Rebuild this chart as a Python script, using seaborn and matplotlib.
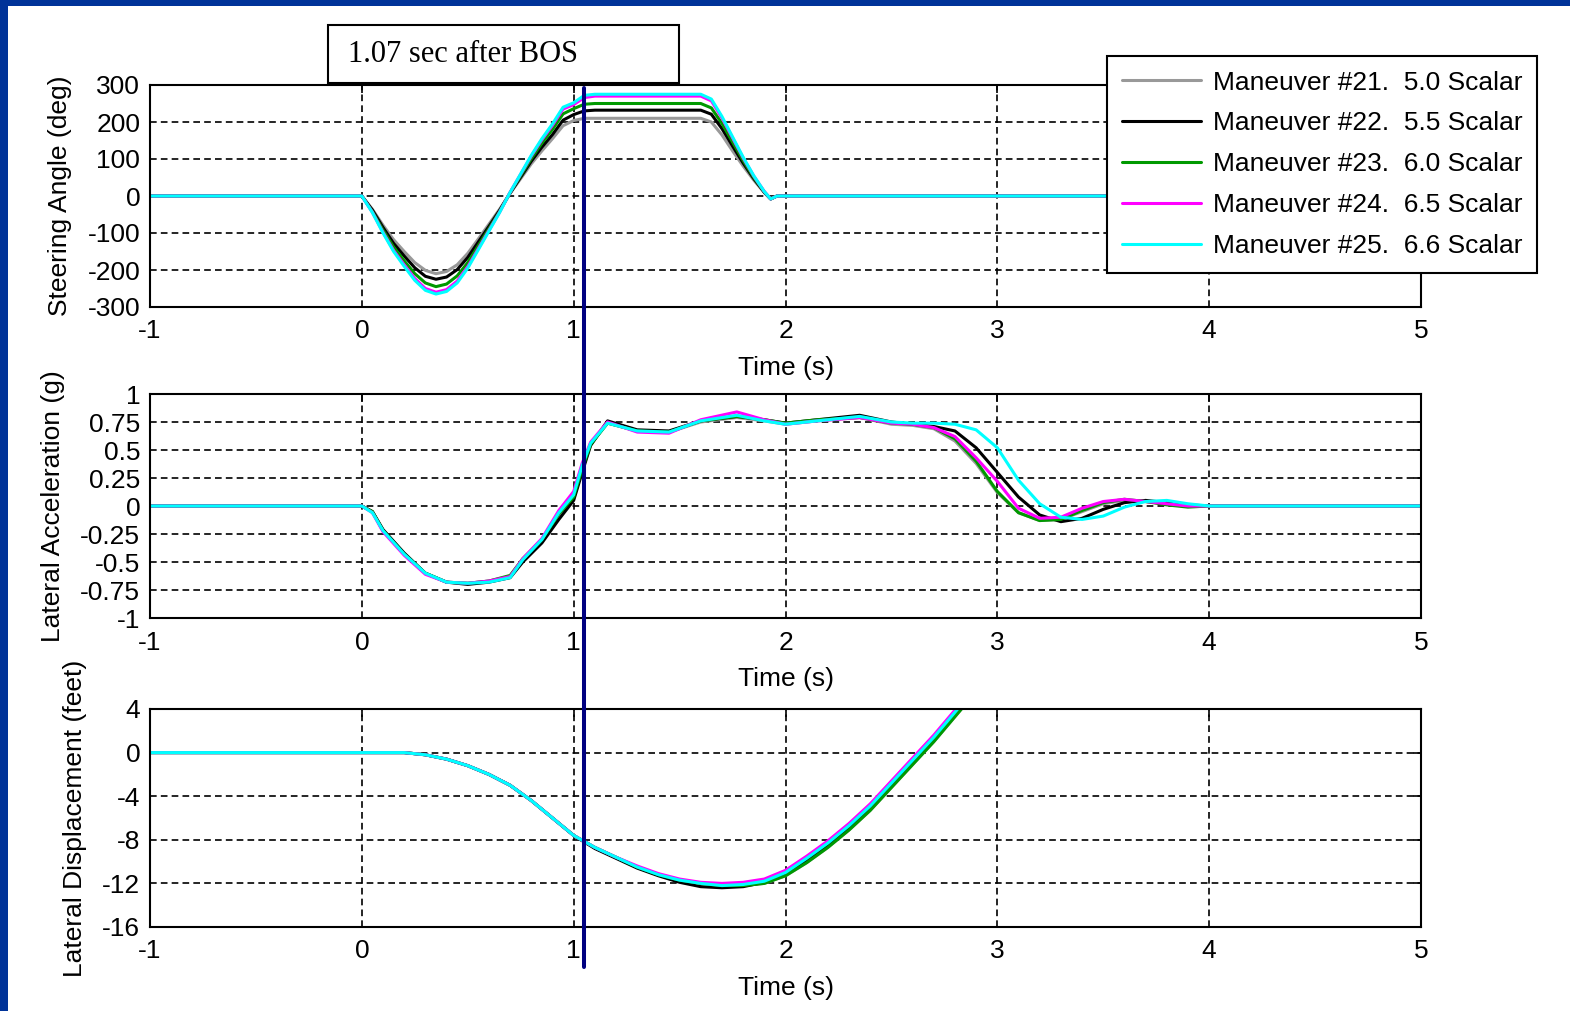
import matplotlib
matplotlib.use("Agg")
import matplotlib.pyplot as plt
import matplotlib.transforms as mtransforms
from matplotlib.lines import Line2D
from matplotlib.patches import Rectangle
import pandas as pd
import seaborn as sns

# legend entries / colours (drawn in this order, cyan on top)
runs = ["Maneuver #21.  5.0 Scalar", "Maneuver #22.  5.5 Scalar",
        "Maneuver #23.  6.0 Scalar", "Maneuver #24.  6.5 Scalar",
        "Maneuver #25.  6.6 Scalar"]
run_colors = ["#999999", "#000000", "#009900", "#ff00ff", "#00ffff"]

bos_time = 1.05
bos_text = "1.07 sec after BOS"

# steering angle (deg)
t_steer = [-1.0, 0.0, 0.05, 0.10, 0.15, 0.20, 0.25, 0.30, 0.35, 0.40, 0.45, 0.50,
           0.55, 0.60, 0.65, 0.70, 0.75, 0.80, 0.85, 0.90, 0.95, 1.00, 1.05, 1.10,
           1.60, 1.65, 1.70, 1.75, 1.80, 1.85, 1.90, 1.93, 1.96, 5.0]
steer_21 = [0, 0, -36, -79, -118, -150, -180, -201, -210, -204, -186, -155, -116, -76, -36, 7, 47,
            87, 122, 155, 190, 204, 210, 210, 210, 200, 165, 122, 81, 43, 9, -8, 0, 0]
steer_22 = [0, 0, -38, -85, -128, -162, -194, -217, -225, -219, -199, -166, -124, -82, -39, 8, 51,
            94, 132, 166, 205, 220, 230, 232, 232, 221, 182, 135, 89, 47, 10, -8, 0, 0]
steer_23 = [0, 0, -42, -92, -138, -175, -210, -235, -245, -238, -216, -180, -134, -88, -42, 9, 55,
            101, 143, 180, 222, 236, 248, 250, 250, 238, 196, 146, 96, 50, 11, -8, 0, 0]
steer_24 = [0, 0, -44, -98, -147, -186, -223, -250, -260, -253, -230, -191, -142, -93, -44, 10, 59,
            108, 152, 191, 235, 247, 266, 270, 270, 257, 211, 157, 103, 54, 12, -8, 0, 0]
steer_25 = [0, 0, -45, -100, -150, -190, -228, -255, -265, -258, -235, -195, -145, -95, -45, 10, 60,
            110, 155, 195, 240, 252, 272, 275, 275, 262, 215, 160, 105, 55, 12, -8, 0, 0]

# lateral acceleration (g)
t_acc = [-1.0, 0.0, 0.05, 0.10, 0.20, 0.30, 0.40, 0.50, 0.60, 0.70, 0.76, 0.85, 0.93, 1.00,
         1.04, 1.08, 1.16, 1.30, 1.45, 1.60, 1.77, 1.90, 2.00, 2.15, 2.35, 2.50, 2.60, 2.70,
         2.80, 2.90, 3.00, 3.10, 3.20, 3.30, 3.40, 3.50, 3.60, 3.70, 3.80, 3.90, 4.00, 5.0]
acc_21 = [0, 0, -0.05, -0.22, -0.43, -0.60, -0.68, -0.69, -0.67, -0.63, -0.48, -0.31, -0.08, 0.07,
          0.32, 0.55, 0.74, 0.67, 0.66, 0.75, 0.79, 0.76, 0.73, 0.76, 0.79, 0.73, 0.72, 0.69,
          0.58, 0.38, 0.12, -0.06, -0.13, -0.12, -0.05, 0.02, 0.05, 0.04, 0.02, 0.0, 0.0, 0.0]
acc_22 = [0, 0, -0.05, -0.21, -0.42, -0.60, -0.68, -0.70, -0.68, -0.64, -0.50, -0.33, -0.12, 0.05,
          0.30, 0.54, 0.76, 0.68, 0.67, 0.76, 0.80, 0.77, 0.74, 0.77, 0.81, 0.75, 0.73, 0.71,
          0.67, 0.52, 0.30, 0.08, -0.08, -0.14, -0.11, -0.03, 0.03, 0.05, 0.03, 0.01, 0.0, 0.0]
acc_23 = [0, 0, -0.05, -0.22, -0.43, -0.60, -0.68, -0.69, -0.67, -0.62, -0.47, -0.30, -0.07, 0.08,
          0.33, 0.55, 0.74, 0.67, 0.66, 0.76, 0.80, 0.77, 0.74, 0.77, 0.79, 0.74, 0.73, 0.70,
          0.60, 0.40, 0.13, -0.06, -0.13, -0.12, -0.04, 0.03, 0.06, 0.04, 0.01, -0.01, 0.0, 0.0]
acc_24 = [0, 0, -0.06, -0.23, -0.44, -0.61, -0.68, -0.69, -0.67, -0.63, -0.47, -0.29, -0.04, 0.13,
          0.38, 0.57, 0.75, 0.66, 0.65, 0.77, 0.84, 0.77, 0.73, 0.76, 0.79, 0.74, 0.73, 0.70,
          0.62, 0.43, 0.22, -0.02, -0.11, -0.10, -0.02, 0.04, 0.06, 0.04, 0.02, 0.0, 0.0, 0.0]
acc_25 = [0, 0, -0.06, -0.22, -0.43, -0.60, -0.68, -0.69, -0.68, -0.64, -0.48, -0.30, -0.06, 0.10,
          0.36, 0.56, 0.74, 0.67, 0.66, 0.76, 0.81, 0.76, 0.73, 0.76, 0.80, 0.75, 0.74, 0.74,
          0.73, 0.68, 0.52, 0.23, 0.02, -0.10, -0.12, -0.09, -0.01, 0.04, 0.05, 0.02, 0.0, 0.0]

# lateral displacement (feet)
t_disp = [-1.0, 0.0, 0.20, 0.30, 0.40, 0.50, 0.60, 0.70, 0.80, 0.90, 1.00, 1.10, 1.20, 1.30,
          1.40, 1.50, 1.60, 1.70, 1.80, 1.90, 2.00, 2.10, 2.20, 2.30, 2.40, 2.50, 2.60, 2.70,
          2.80, 2.90]
disp_21 = [0, 0, 0, -0.2, -0.6, -1.2, -2.0, -3.0, -4.4, -6.0, -7.6, -8.7, -9.6, -10.5, -11.2,
           -11.7, -12.0, -12.2, -12.2, -12.0, -11.3, -10.1, -8.7, -7.1, -5.3, -3.2, -1.1, 1.0, 3.3, 5.6]
disp_22 = [0, 0, 0, -0.2, -0.6, -1.2, -2.0, -3.0, -4.4, -6.0, -7.6, -8.8, -9.7, -10.6, -11.3,
           -11.9, -12.3, -12.4, -12.3, -11.9, -11.2, -9.9, -8.5, -6.9, -5.1, -3.0, -0.9, 1.2, 3.5, 5.8]
disp_23 = [0, 0, 0, -0.2, -0.6, -1.2, -2.0, -3.0, -4.4, -6.0, -7.6, -8.7, -9.6, -10.5, -11.2,
           -11.7, -12.0, -12.2, -12.2, -12.0, -11.3, -10.1, -8.7, -7.1, -5.3, -3.2, -1.1, 1.0, 3.3, 5.6]
disp_24 = [0, 0, 0, -0.2, -0.6, -1.2, -2.0, -3.0, -4.4, -6.0, -7.6, -8.7, -9.6, -10.4, -11.1,
           -11.6, -11.9, -12.0, -11.9, -11.6, -10.8, -9.5, -8.1, -6.5, -4.7, -2.6, -0.5, 1.6, 3.9, 6.2]
disp_25 = [0, 0, 0, -0.2, -0.6, -1.2, -2.0, -3.0, -4.4, -6.0, -7.6, -8.7, -9.6, -10.5, -11.2,
           -11.7, -12.0, -12.2, -12.1, -11.8, -11.0, -9.7, -8.3, -6.7, -4.9, -2.8, -0.7, 1.4, 3.7, 6.0]

x_ticks = [-1, 0, 1, 2, 3, 4, 5]
steer_ticks = [-300, -200, -100, 0, 100, 200, 300]
acc_ticks = [-1, -0.75, -0.5, -0.25, 0, 0.25, 0.5, 0.75, 1]
acc_tick_labels = ["-1", "-0.75", "-0.5", "-0.25", "0", "0.25", "0.5", "0.75", "1"]
disp_ticks = [-16, -12, -8, -4, 0, 4]


def long_frame(t, series):
    parts = [pd.DataFrame({"t": t, "v": vals, "run": name}) for name, vals in zip(runs, series)]
    return pd.concat(parts, ignore_index=True)


sns.set_theme(style="white", rc={"axes.edgecolor": "black", "axes.labelcolor": "black",
                                 "text.color": "black", "xtick.color": "black",
                                 "ytick.color": "black"})
plt.rcParams["font.family"] = ["Liberation Sans", "DejaVu Sans"]
plt.rcParams["axes.unicode_minus"] = False

W, H = 1570, 1011
fig = plt.figure(figsize=(W / 100, H / 100), dpi=100)
fig.patch.set_facecolor("#003399")
fig.add_artist(Rectangle((8 / W, 0), 1, 1 - 6 / H, transform=fig.transFigure,
                         facecolor="white", edgecolor="none", zorder=-10))

ax1 = fig.add_axes([150 / W, 1 - 307 / H, 1271 / W, 222 / H])
ax2 = fig.add_axes([150 / W, 1 - 618 / H, 1271 / W, 224 / H])
ax3 = fig.add_axes([150 / W, 1 - 927 / H, 1271 / W, 218 / H])

panels = [
    (ax1, long_frame(t_steer, [steer_21, steer_22, steer_23, steer_24, steer_25]),
     (-300, 300), steer_ticks, [str(v) for v in steer_ticks], "Steering Angle (deg)"),
    (ax2, long_frame(t_acc, [acc_21, acc_22, acc_23, acc_24, acc_25]),
     (-1, 1), acc_ticks, acc_tick_labels, "Lateral Acceleration (g)"),
    (ax3, long_frame(t_disp, [disp_21, disp_22, disp_23, disp_24, disp_25]),
     (-16, 4), disp_ticks, [str(v) for v in disp_ticks], "Lateral Displacement (feet)"),
]

palette = dict(zip(runs, run_colors))
for ax, df, ylim, yt, ytl, ylab in panels:
    sns.lineplot(data=df, x="t", y="v", hue="run", hue_order=runs, palette=palette,
                 estimator=None, sort=False, linewidth=2.2, legend=False, ax=ax)
    ax.set_xlim(-1, 5)
    ax.set_ylim(*ylim)
    ax.set_xticks(x_ticks)
    ax.set_xticklabels([str(v) for v in x_ticks])
    ax.set_yticks(yt)
    ax.set_yticklabels(ytl)
    ax.grid(True, color="black", linestyle=(0, (4, 2.5)), linewidth=1.2)
    ax.tick_params(direction="in", length=6, width=1.2, top=True, right=True,
                   labelsize=19)
    ax.tick_params(axis="x", pad=9)
    ax.tick_params(axis="y", pad=7)
    for sp in ax.spines.values():
        sp.set_color("black")
        sp.set_linewidth(1.5)
    ax.set_xlabel("Time (s)", fontsize=19, labelpad=9)
    ax.set_ylabel(ylab, fontsize=19, labelpad=11)

handles = [Line2D([0], [0], color=c, lw=2.2) for c in run_colors]
leg = fig.legend(handles, runs, loc="upper right", bbox_to_anchor=(1537 / W, 1 - 56 / H),
                 fontsize=19, frameon=True, fancybox=False, edgecolor="black", framealpha=1,
                 handlelength=3.0, handletextpad=0.45, labelspacing=0.64, borderpad=0.55,
                 borderaxespad=0)
leg.get_frame().set_linewidth(1.5)

# annotation box and BOS marker line across all panels
fig.add_artist(Rectangle((328 / W, 1 - 83 / H), 351 / W, 58 / H, transform=fig.transFigure,
                         facecolor="white", edgecolor="black", linewidth=1.5))
fig.text(348 / W, 1 - 54 / H, bos_text, family=["Liberation Serif", "DejaVu Serif"],
         fontsize=22, ha="left", va="center")
trans = mtransforms.blended_transform_factory(ax1.transData, fig.transFigure)
fig.add_artist(Line2D([bos_time, bos_time], [1 - 88 / H, 1 - 967 / H], transform=trans,
                      color="#000080", linewidth=2.9))

fig.savefig("out.png", dpi=100, facecolor=fig.get_facecolor())
